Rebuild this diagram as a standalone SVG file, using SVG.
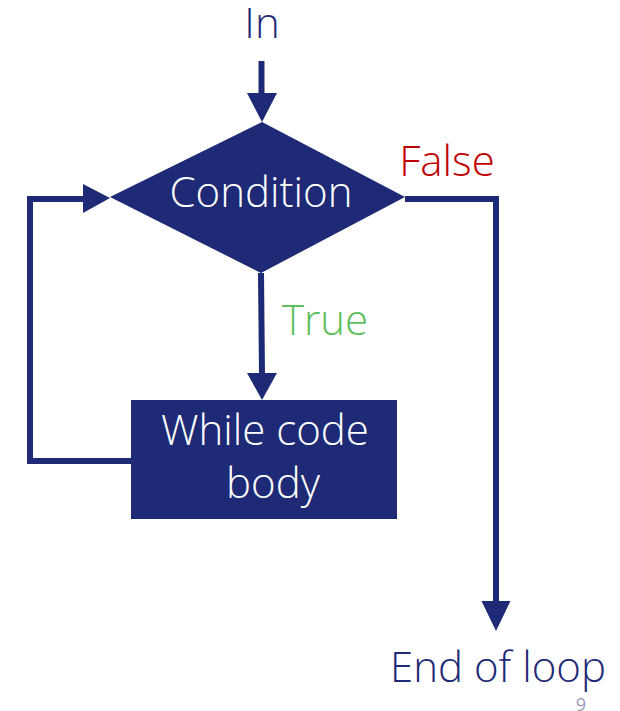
<svg xmlns="http://www.w3.org/2000/svg" width="620" height="711" viewBox="0 0 620 711">
<style>
.t{font-family:"Open Sans","Noto Sans","Liberation Sans",sans-serif;font-weight:300;font-size:42px;text-anchor:middle}
.n{fill:#1e2a76}
.w{fill:#ffffff}
.c{fill:none;stroke:#1e2a76;stroke-width:6}
.h{fill:#1e2a76}
</style>
<rect width="620" height="711" fill="#ffffff"/>
<g id="in"><text class="t n" x="262" y="38">In</text></g>
<g id="condition">
<polygon points="262,122 405,197 261,273 110,197" fill="#1e2a76"/>
<text class="t w" x="261" y="207">Condition</text>
</g>
<g id="body">
<rect x="131" y="400" width="266" height="119" fill="#1e2a76"/>
<text class="t w" x="265" y="445">While code</text>
<text class="t w" x="273" y="498">body</text>
</g>
<g id="end"><text class="t n" x="498" y="682">End of loop</text></g>
<g id="connectors">
<line class="c" x1="261.5" y1="61" x2="261.5" y2="95"/>
<polygon class="h" points="247,93 277,93 262,122"/>
<line class="c" x1="261" y1="273" x2="262" y2="375"/>
<polygon class="h" points="247,373 277,373 262,400"/>
<polyline class="c" points="131,461 30,461 30,199 85,199"/>
<polygon class="h" points="83,184 110,198 83,213"/>
<polyline class="c" points="405,199 496,199 496,603"/>
<polygon class="h" points="481.5,601 510.5,601 496,631"/>
<text class="t" x="325" y="335" fill="#5cbf5c">True</text>
<text class="t" x="447" y="176" fill="#c00000">False</text>
</g>
<text x="581" y="711" font-family="Open Sans, sans-serif" font-size="18" fill="#9a9ab8" text-anchor="middle">9</text>
</svg>
